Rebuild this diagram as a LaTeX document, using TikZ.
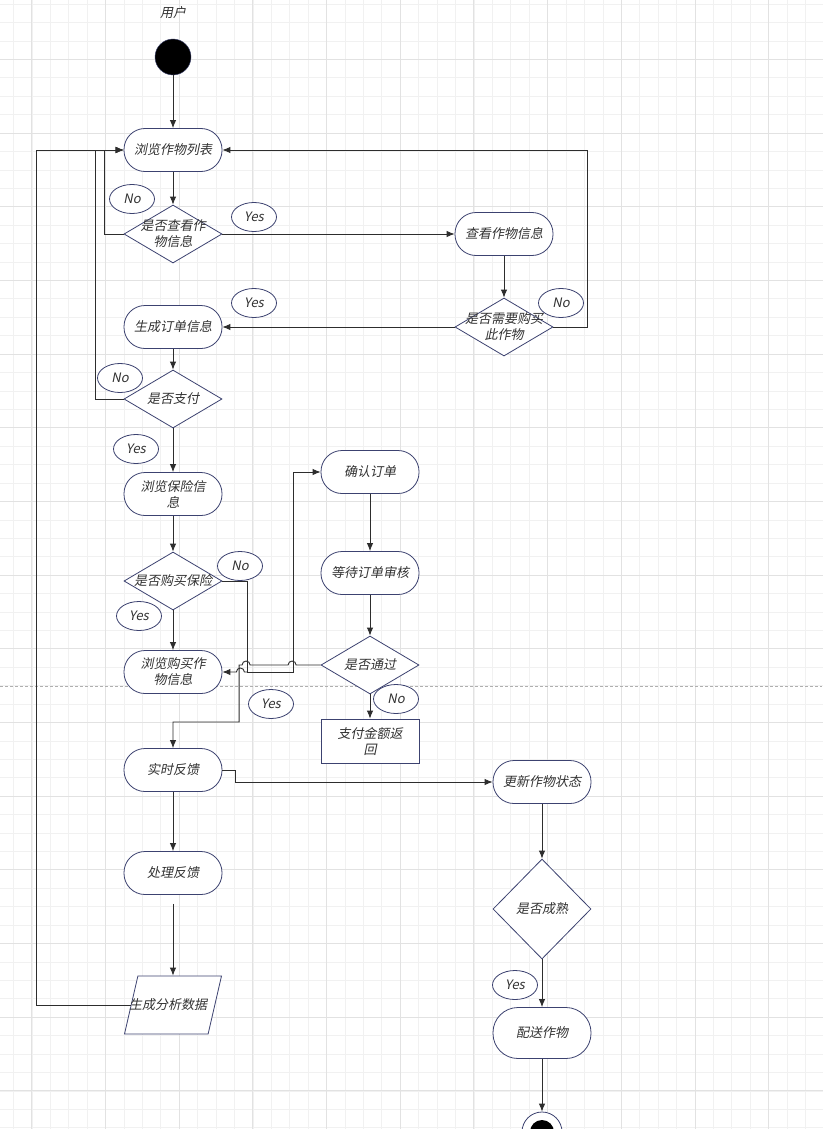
\documentclass[tikz,border=0pt]{standalone}
\usepackage{fontspec}
\setmainfont{Noto Sans CJK SC}[FakeSlant=0.2]
\usetikzlibrary{shapes.geometric, arrows.meta}

\definecolor{nodeblue}{RGB}{60,66,112}
\definecolor{linegray}{RGB}{45,45,45}
\definecolor{textgray}{RGB}{50,50,50}
\definecolor{gridminor}{RGB}{241,241,241}
\definecolor{gridmajor}{RGB}{226,226,226}
\definecolor{breakgray}{RGB}{175,175,175}

\tikzset{
  every node/.style={font=\fontsize{13pt}{16pt}\selectfont, text=textgray},
  every label/.style={align=center},
  activity/.style={rectangle, rounded corners=21pt, draw=nodeblue, fill=white, line width=0.8pt,
    minimum width=98pt, minimum height=43pt, inner sep=0pt, align=center},
  plainbox/.style={rectangle, draw=nodeblue, fill=white, line width=0.8pt,
    minimum width=98pt, minimum height=44pt, inner sep=0pt, align=center},
  decision/.style={diamond, draw=nodeblue, fill=white, line width=0.8pt,
    minimum width=98pt, minimum height=58pt, inner sep=0pt},
  iobox/.style={trapezium, trapezium left angle=77, trapezium right angle=103,
    trapezium stretches body, draw=nodeblue, fill=white, line width=0.8pt,
    minimum width=97pt, inner xsep=0pt, inner ysep=29pt},
  guard/.style={ellipse, draw=nodeblue, fill=white, line width=0.8pt,
    minimum width=45pt, minimum height=29pt, inner sep=0pt},
  startnode/.style={circle, draw=nodeblue, fill=black, minimum size=36pt, inner sep=0pt},
  endnode/.style={circle, draw=nodeblue, fill=white, line width=0.8pt, minimum size=40pt, inner sep=0pt,
    path picture={\fill[black] (path picture bounding box.center) circle (12pt);}},
  flow/.style={draw=linegray, line width=0.9pt},
  arr/.style={flow, -{Latex[length=8pt, width=6.5pt]}},
}

\begin{document}
\begin{tikzpicture}[x=1pt, y=-1pt]
\useasboundingbox (0,0) rectangle (822,1129);
\fill[white] (0,0) rectangle (822,1129);
% background grid
\begin{scope}[x=1pt, y=1pt, shift={(31.8pt,-59.3pt)}]
  \draw[gridminor, line width=0.6pt, step=18.42pt] (-32,-1070) grid (791,60);
  \draw[gridmajor, line width=0.8pt, step=73.68pt] (-32,-1070) grid (791,60);
\end{scope}
\draw[breakgray, line width=0.7pt, dash pattern=on 3pt off 2pt] (0,686) -- (822,686);

% left column
\node[startnode] (start) at (173,57) {};
\node (user) [node distance=44pt, above of=start] {用户};
\node[activity] (liebiao) [node distance=93pt, below of=start] {浏览作物列表};
\node[decision, label={center:是否查看作\\物信息}] (q1) [node distance=84pt, below of=liebiao] {};
\node[activity] (order) [node distance=93pt, below of=q1] {生成订单信息};
\node[decision, label={center:是否支付}] (q3) [node distance=72pt, below of=order] {};
\node[activity] (insure) [node distance=95pt, below of=q3] {浏览保险信\\息};
\node[decision, label={center:是否购买保险}] (q4) [node distance=87pt, below of=insure] {};
\node[activity] (buy) [node distance=91pt, below of=q4] {浏览购买作\\物信息};
\node[activity] (feedback) [node distance=98pt, below of=buy] {实时反馈};
\node[activity] (handle) [node distance=103pt, below of=feedback] {处理反馈};
\node[iobox, label={[xshift=-5pt]center:生成分析数据}] (data) [node distance=132pt, below of=handle] {};

% middle and right columns
\node[activity] (info) [node distance=331pt, right of=q1] {查看作物信息};
\node[decision, label={center:是否需要购买\\此作物}] (q2) [node distance=93pt, below of=info] {};
\node[activity] (confirm) at (370,472) {确认订单};
\node[activity] (wait) [node distance=101pt, below of=confirm] {等待订单审核};
\node[decision, label={center:是否通过}] (q5) [node distance=92pt, below of=wait] {};
\node[plainbox] (refund) [node distance=76pt, below of=q5] {支付金额返\\回};
\node[activity] (update) at (542,782) {更新作物状态};
\node[decision, minimum height=100pt, label={center:是否成熟}] (q6) [node distance=127pt, below of=update] {};
\node[activity, minimum height=51pt, rounded corners=25pt] (deliver) [node distance=124pt, below of=q6] {配送作物};
\node[endnode] (finish) [node distance=99pt, below of=deliver] {};

% guards
\node[guard] (no1) at (132,199) {No};
\node[guard] (yes1) at (254,217) {Yes};
\node[guard] (yes2) at (254,303) {Yes};
\node[guard] (no2) at (561,303) {No};
\node[guard] (no3) at (120,378) {No};
\node[guard] (yes3) at (136,449) {Yes};
\node[guard] (no4) at (240,566) {No};
\node[guard] (yes4) at (139,616) {Yes};
\node[guard] (yes5) at (271,704) {Yes};
\node[guard] (no5) at (396,699) {No};
\node[guard] (yes6) at (515,985) {Yes};

% connectors
\draw[arr] (start) -- (liebiao);
\draw[arr] (liebiao) -- (q1);
\draw[arr] (q1.west) -- ++(-19,0) |- (liebiao.west);
\draw[arr] (q1.east) -- (info.west);
\draw[arr] (info) -- (q2);
\draw[arr] (q2.east) -- ++(34,0) |- (liebiao.east);
\draw[arr] (q2.west) -- (order.east);
\draw[arr] (order) -- (q3);
\draw[arr] (q3.west) -- ++(-28,0) |- (liebiao.west);
\draw[arr] (q3) -- (insure);
\draw[arr] (insure) -- (q4);
\draw[arr] (q4) -- (buy);
\draw[arr] (q4.east) -- ++(25,0) -- ++(0,91) coordinate (jn) -- ++(46,0) |- (confirm.west);
\draw[arr] (jn) -- ++(-3,0) arc[start angle=0, end angle=-180, radius=4] -- (buy.east);
\draw[arr] (confirm) -- (wait);
\draw[arr] (wait) -- (q5);
\draw[arr] (q5) -- (refund);
\draw[arr] (q5.west) -- ++(-24.5,0) arc[start angle=0, end angle=-180, radius=4]
  -- ++(-38,0) arc[start angle=0, end angle=-180, radius=4] -- ++(-3,0) -- ++(0,57) -| (feedback.north);
\draw[arr] (feedback) -- (handle);
\draw[arr] ([yshift=-9pt]handle.south) -- (handle.south |- data.top side);
\draw[flow] (data.left side) -- (36,0 |- data.left side) coordinate (back);
\draw[arr] (back) |- (liebiao.west);
\draw[arr] (feedback.east) -- ++(13,0) |- (update.west);
\draw[arr] (update) -- (q6);
\draw[arr] (q6) -- (deliver);
\draw[arr] (deliver) -- (finish);
\end{tikzpicture}
\end{document}
